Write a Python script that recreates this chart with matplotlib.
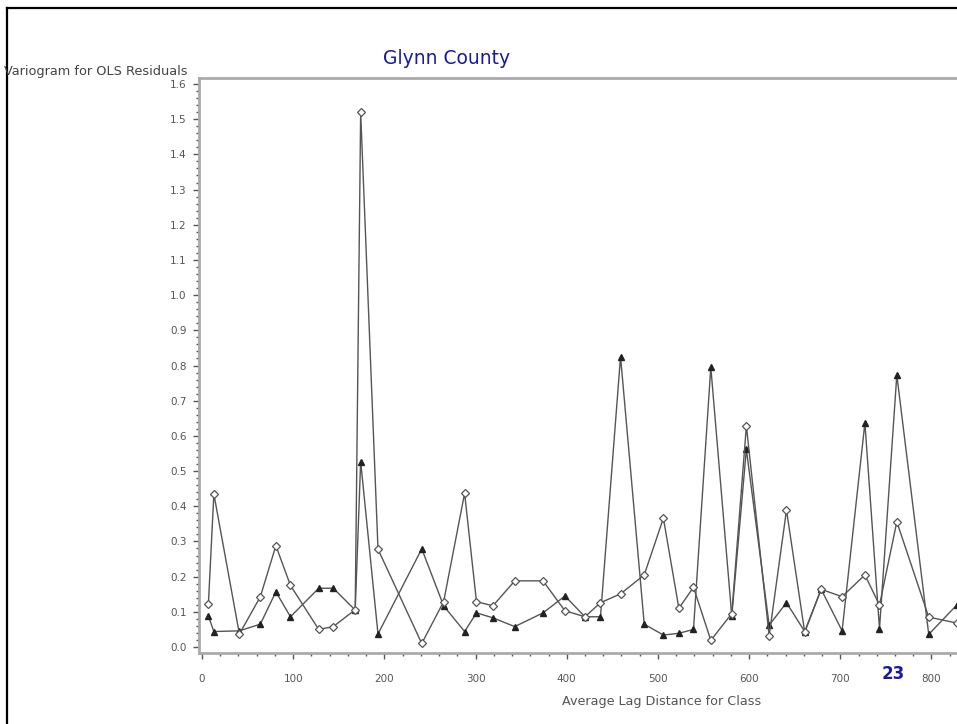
import matplotlib
matplotlib.use("Agg")
import matplotlib.pyplot as plt
from matplotlib.lines import Line2D
from matplotlib.ticker import MultipleLocator, FormatStrFormatter

# lag class averages and semivariances
lag = [7, 13, 41, 64, 81, 97, 128, 144, 168, 174, 193, 241, 265, 288, 301,
       319, 343, 374, 398, 420, 437, 459, 485, 506, 523, 539, 558, 581, 597,
       622, 641, 661, 679, 702, 727, 743, 762, 797, 828]
gamma_diamond = [0.122, 0.435, 0.037, 0.143, 0.288, 0.175, 0.050, 0.058, 0.106,
                 1.520, 0.278, 0.010, 0.129, 0.437, 0.129, 0.117, 0.188, 0.188,
                 0.103, 0.086, 0.126, 0.151, 0.205, 0.366, 0.110, 0.170, 0.019,
                 0.095, 0.628, 0.032, 0.389, 0.042, 0.164, 0.143, 0.205, 0.119,
                 0.356, 0.085, 0.068]
gamma_triangle = [0.088, 0.044, 0.046, 0.065, 0.157, 0.086, 0.167, 0.167, 0.105,
                  0.527, 0.037, 0.279, 0.117, 0.044, 0.097, 0.083, 0.058, 0.097,
                  0.145, 0.086, 0.086, 0.825, 0.065, 0.034, 0.039, 0.050, 0.795,
                  0.088, 0.562, 0.062, 0.126, 0.044, 0.164, 0.046, 0.637, 0.052,
                  0.773, 0.036, 0.120]

W, H = 957, 724
fig = plt.figure(figsize=(W / 100, H / 100), dpi=100)
fig.patch.set_facecolor("white")

# axes box in pixel terms -> figure fractions
left, top, bottom = 199, 78, 653
ax = fig.add_axes([left / W, 1 - bottom / H, (W - left) / W, (bottom - top) / H])

line_col = "#555555"
ax.plot(lag, gamma_triangle, color=line_col, lw=1.0, marker="^", ms=4,
        mfc="#222222", mec="#222222", zorder=3)
ax.plot(lag, gamma_diamond, color=line_col, lw=1.0, marker="D", ms=4.3,
        mfc="white", mec="#555555", mew=0.9, zorder=3)

ax.set_xlim(-3.3, 828)
ax.set_ylim(-0.017, 1.617)

ax.xaxis.set_major_locator(MultipleLocator(100))
ax.xaxis.set_minor_locator(MultipleLocator(20))
ax.yaxis.set_major_locator(MultipleLocator(0.1))
ax.yaxis.set_minor_locator(MultipleLocator(0.02))
ax.yaxis.set_major_formatter(FormatStrFormatter("%.1f"))

for sp in ["left", "bottom", "top"]:
    ax.spines[sp].set_color("#aaaaaa")
    ax.spines[sp].set_linewidth(2)
ax.spines["right"].set_visible(False)

ax.tick_params(which="major", direction="out", length=4, width=1, color="#555555",
               labelsize=7.5, labelcolor="#555555")
ax.tick_params(axis="x", which="major", pad=11)
ax.tick_params(axis="y", which="major", pad=5)
ax.tick_params(which="minor", direction="out", length=2.5, width=1, color="#555555")

for lab in ax.get_xticklabels() + ax.get_yticklabels():
    lab.set_family("DejaVu Sans")

# texts
fig.text(447 / W, 1 - 58 / H, "Glynn County", color="#1a1aa0", fontsize=13.5,
         ha="center", va="center", family="DejaVu Sans")
fig.text(4 / W, 1 - 71 / H, "Variogram for OLS Residuals", color="#444444",
         fontsize=9.3, ha="left", va="center", family="DejaVu Sans")
fig.text(662 / W, 1 - 702 / H, "Average Lag Distance for Class", color="#555555",
         fontsize=9.2, ha="center", va="center", family="DejaVu Sans")
fig.text(893 / W, 1 - 674 / H, "23", color="#1a1aa0", fontsize=12,
         fontweight="bold", ha="center", va="center", family="DejaVu Sans")

# slide border (left and top)
fig.add_artist(Line2D([7 / W, 7 / W], [0, 1 - 8 / H], color="black", lw=1.6,
                      transform=fig.transFigure))
fig.add_artist(Line2D([7 / W, 1], [1 - 8 / H, 1 - 8 / H], color="black", lw=1.6,
                      transform=fig.transFigure))

fig.savefig("out.png", dpi=100)
